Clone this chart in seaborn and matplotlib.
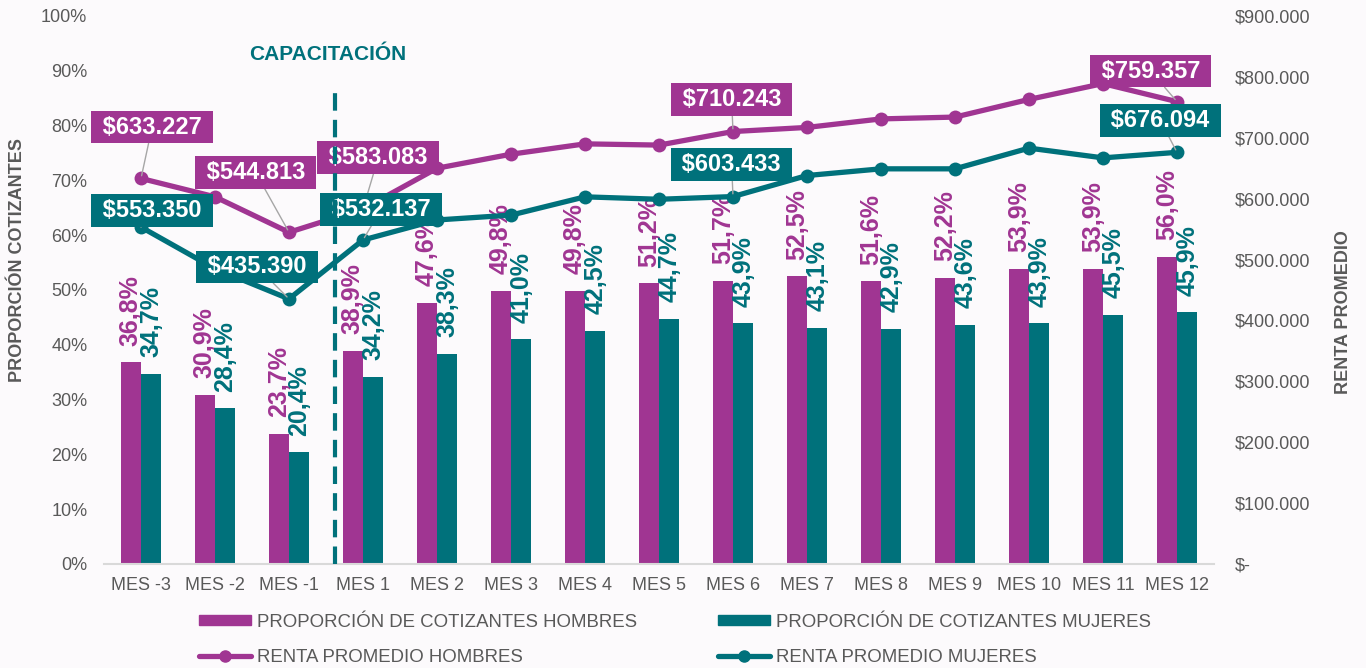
import matplotlib
matplotlib.use("Agg")
import matplotlib.pyplot as plt
from matplotlib.patches import Patch
from matplotlib.lines import Line2D
from matplotlib.ticker import FuncFormatter, MultipleLocator
import seaborn as sns
import pandas as pd
import numpy as np

# ---------------- data ----------------
meses = ["MES -3", "MES -2", "MES -1", "MES 1", "MES 2", "MES 3", "MES 4", "MES 5",
         "MES 6", "MES 7", "MES 8", "MES 9", "MES 10", "MES 11", "MES 12"]
prop_hombres = [36.8, 30.9, 23.7, 38.9, 47.6, 49.8, 49.8, 51.2, 51.7, 52.5, 51.6, 52.2, 53.9, 53.9, 56.0]
prop_mujeres = [34.7, 28.4, 20.4, 34.2, 38.3, 41.0, 42.5, 44.7, 43.9, 43.1, 42.9, 43.6, 43.9, 45.5, 45.9]
renta_hombres = [633227, 603000, 544813, 583083, 650000, 673000, 690000, 688000,
                 710243, 717000, 731000, 734000, 763000, 789000, 759357]
renta_mujeres = [553350, 485000, 435390, 532137, 565000, 573000, 603000, 599000,
                 603433, 638000, 649000, 649000, 683000, 667000, 676094]
labeled_idx = [0, 2, 3, 8, 14]

lab_bar_h = "PROPORCIÓN DE COTIZANTES HOMBRES"
lab_bar_m = "PROPORCIÓN DE COTIZANTES MUJERES"
lab_line_h = "RENTA PROMEDIO HOMBRES"
lab_line_m = "RENTA PROMEDIO MUJERES"

# ---------------- style ----------------
MAG = "#A03592"
TEAL = "#00717B"
GRAY = "#595959"
BG = "#FCFAFC"

sns.set_theme(style="white")
plt.rcParams["font.family"] = ["Liberation Sans", "DejaVu Sans"]

fig = plt.figure(figsize=(13.66, 6.68), dpi=100, facecolor=BG)
ax = fig.add_axes([104 / 1366, 1 - 564 / 668, (1214 - 104) / 1366, (564 - 16) / 668])
ax.set_facecolor(BG)

df_bars = pd.DataFrame({
    "mes": meses * 2,
    "serie": [lab_bar_h] * len(meses) + [lab_bar_m] * len(meses),
    "valor": [v / 100 for v in prop_hombres] + [v / 100 for v in prop_mujeres],
})
sns.barplot(data=df_bars, x="mes", y="valor", hue="serie", order=meses,
            hue_order=[lab_bar_h, lab_bar_m], palette=[MAG, TEAL], saturation=1,
            width=0.55, linewidth=0, ax=ax, legend=False, errorbar=None)

ax.set_xlim(-0.5, 14.5)
ax.set_ylim(0, 1.0)
ax.yaxis.set_major_locator(MultipleLocator(0.1))
ax.yaxis.set_major_formatter(FuncFormatter(lambda v, p: f"{v*100:.0f}%"))
ax.set_xlabel("")
ax.set_ylabel("")
ax.tick_params(axis="both", length=0, labelsize=13, labelcolor=GRAY)
ax.tick_params(axis="y", pad=12)
ax.tick_params(axis="x", pad=9)
for s in ["top", "left", "right"]:
    ax.spines[s].set_visible(False)
ax.spines["bottom"].set_color("#D9D9D9")
ax.spines["bottom"].set_linewidth(1.5)

# bar labels
for cont, vals, col in zip(ax.containers, [prop_hombres, prop_mujeres], [MAG, TEAL]):
    ax.bar_label(cont, labels=[f"{v:.1f}%".replace(".", ",") for v in vals],
                 rotation=90, padding=12, color=col, fontsize=18, fontweight="bold")

# ---------------- secondary axis ----------------
ax2 = ax.twinx()
for s in ["top", "left", "right", "bottom"]:
    ax2.spines[s].set_visible(False)
pos = np.arange(len(meses))
df_lines = pd.DataFrame({"x": np.concatenate([pos, pos]),
                         "renta": renta_hombres + renta_mujeres,
                         "serie": [lab_line_h] * len(meses) + [lab_line_m] * len(meses)})
sns.lineplot(data=df_lines, x="x", y="renta", hue="serie", palette=[MAG, TEAL],
             hue_order=[lab_line_h, lab_line_m], marker="o", markersize=10,
             markeredgewidth=0, linewidth=3.8, sort=False, legend=False, ax=ax2, zorder=3)
ax2.set_ylim(0, 900000)
ax2.set_xlim(-0.5, 14.5)
ax2.yaxis.set_major_locator(MultipleLocator(100000))
ax2.yaxis.set_major_formatter(FuncFormatter(
    lambda v, p: "$-" if abs(v) < 1 else "$" + f"{v:,.0f}".replace(",", ".")))
ax2.set_ylabel("")
ax2.set_xlabel("")
ax2.tick_params(axis="y", length=0, labelsize=13, labelcolor=GRAY, pad=15)


def money(v):
    return "$" + f"{v:,.0f}".replace(",", ".")


offs_h = {0: (8, 37), 2: (-24, 43), 3: (11, 37), 8: (-1, 23), 14: (-19, 22)}
offs_m = {0: (8, 12), 2: (-23, 23), 3: (13, 22), 8: (-1, 23), 14: (-12, 23)}
for vals, col, offs in [(renta_hombres, MAG, offs_h), (renta_mujeres, TEAL, offs_m)]:
    for i in labeled_idx:
        ax2.annotate(" " + money(vals[i]) + " ", xy=(i, vals[i]), xytext=offs[i],
                     textcoords="offset points", ha="center", va="center",
                     fontsize=17, fontweight="bold", color="white", zorder=5,
                     bbox=dict(boxstyle="square,pad=0.2", fc=col, ec="none"),
                     arrowprops=dict(arrowstyle="-", color="#A6A6A6", lw=1,
                                     shrinkA=0, shrinkB=2))

# training marker line
x_cap = 2.62
ax2.axvline(x_cap, ymin=0, ymax=0.875, color=TEAL, lw=3, linestyle=(0, (4.2, 2.2)), zorder=6)
fig.text(328 / 1366, 1 - 55 / 668, "CAPACITACIÓN", color=TEAL, fontsize=15,
         fontweight="bold", ha="center", va="center")

# axis titles
fig.text(18 / 1366, 1 - 260 / 668, "PROPORCIÓN COTIZANTES", rotation=90, color=GRAY,
         fontsize=13, fontweight="bold", ha="center", va="center")
fig.text(1343 / 1366, 1 - 312 / 668, "RENTA PROMEDIO", rotation=90, color=GRAY,
         fontsize=13, fontweight="bold", ha="center", va="center")

# legend
handles = [Patch(color=MAG, label=lab_bar_h),
           Line2D([], [], color=MAG, lw=3.8, marker="o", markersize=8, label=lab_line_h),
           Patch(color=TEAL, label=lab_bar_m),
           Line2D([], [], color=TEAL, lw=3.8, marker="o", markersize=8, label=lab_line_m)]
fig.legend(handles=handles, loc="center", bbox_to_anchor=(675 / 1366, 1 - 640 / 668),
           ncol=2, frameon=False, fontsize=13.4, labelcolor=GRAY, handlelength=2.8,
           handleheight=0.5, handletextpad=0.35, columnspacing=4.3, labelspacing=1.0)

fig.savefig("out.png", dpi=100, facecolor=BG)
